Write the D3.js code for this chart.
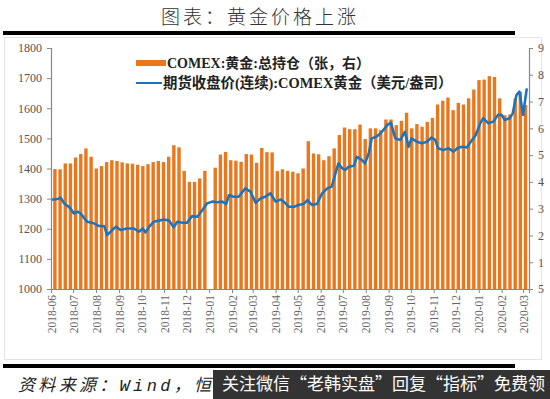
<!DOCTYPE html>
<html><head><meta charset="utf-8">
<script src="https://cdn.jsdelivr.net/npm/d3@7"></script>
<style>body{margin:0;background:#fff;} svg{display:block}</style>
</head><body><svg id="c" width="550" height="399"></svg>
<script>
// ---------- data ----------
const titleText = "图表：黄金价格上涨";
const sourceText = "资料来源：Wind，恒";
const overlayText = "关注微信“老韩实盘”回复“指标”免费领";
const barName = "COMEX:黄金:总持仓（张，右）";
const lineName = "期货收盘价(连续):COMEX黄金（美元/盎司）";

const monthLabels = ["2018-06","2018-07","2018-08","2018-09","2018-10","2018-11","2018-12",
  "2019-01","2019-02","2019-03","2019-04","2019-05","2019-06","2019-07","2019-08","2019-09",
  "2019-10","2019-11","2019-12","2020-01","2020-02","2020-03"];
const leftTicks = [1000,1100,1200,1300,1400,1500,1600,1700,1800];
const rightTicks = [0,1,2,3,4,5,6,7,8,9];
const rightTickLabels = ["5","1","2","3","4","5","6","7","8","9"];

// weekly open interest (10^5 contracts), weeks starting Monday 2018-06-04
const firstWeek = "2018-06-04";
const openInterest = [4.48,4.47,4.69,4.69,4.91,5.04,5.25,4.94,4.50,4.59,
  4.74,4.81,4.78,4.73,4.69,4.68,4.64,4.59,4.66,4.74,
  4.78,4.74,4.94,5.37,5.29,4.41,4.00,4.00,4.13,4.41,
  null,4.53,5.02,5.12,4.81,4.79,4.75,5.04,5.02,4.71,
  5.27,5.11,5.10,4.40,4.47,4.41,4.38,4.32,4.50,5.52,
  5.06,5.03,4.81,4.96,5.25,5.75,6.03,5.97,5.97,6.14,
  5.60,6.00,6.00,5.93,6.33,6.33,6.12,6.28,6.58,6.00,
  6.16,6.06,6.24,6.39,6.89,7.03,7.15,6.68,6.95,6.89,
  7.12,7.45,7.80,7.82,7.95,7.92,7.12,6.49,6.52,7.12,
  7.36,6.87];

const priceDates = ["2018-06-01","2018-06-10","2018-06-14","2018-06-19","2018-06-26","2018-07-02","2018-07-07","2018-07-11",
  "2018-07-20","2018-07-29","2018-08-05","2018-08-12","2018-08-16","2018-08-23","2018-08-28","2018-09-03",
  "2018-09-12","2018-09-21","2018-09-28","2018-10-03","2018-10-07","2018-10-12","2018-10-18","2018-10-25",
  "2018-11-01","2018-11-08","2018-11-14","2018-11-19","2018-11-26","2018-12-02","2018-12-09","2018-12-16",
  "2018-12-23","2018-12-29","2019-01-05","2019-01-12","2019-01-19","2019-01-24","2019-01-28","2019-02-03",
  "2019-02-10","2019-02-19","2019-02-26","2019-03-05","2019-03-12","2019-03-18","2019-03-25","2019-04-01",
  "2019-04-08","2019-04-12","2019-04-19","2019-04-26","2019-05-02","2019-05-09","2019-05-14","2019-05-20",
  "2019-05-27","2019-06-03","2019-06-10","2019-06-16","2019-06-21","2019-06-25","2019-06-30","2019-07-04",
  "2019-07-09","2019-07-16","2019-07-20","2019-07-27","2019-07-31","2019-08-05","2019-08-09","2019-08-16",
  "2019-08-21","2019-08-25","2019-08-30","2019-09-04","2019-09-10","2019-09-17","2019-09-23","2019-09-28",
  "2019-10-02","2019-10-09","2019-10-16","2019-10-23","2019-10-29","2019-11-03","2019-11-07","2019-11-14",
  "2019-11-21","2019-11-28","2019-12-03","2019-12-09","2019-12-16","2019-12-23","2019-12-28","2020-01-03",
  "2020-01-07","2020-01-14","2020-01-21","2020-01-27","2020-02-01","2020-02-05","2020-02-12","2020-02-16",
  "2020-02-21","2020-02-25","2020-03-01","2020-03-06"];
const priceValues = [1296,1299,1303,1284,1271,1251,1257,1251,
  1223,1218,1209,1209,1179,1196,1207,1196,
  1201,1201,1190,1201,1188,1207,1223,1227,
  1231,1227,1205,1223,1220,1220,1242,1240,
  1262,1284,1290,1288,1290,1282,1312,1306,
  1306,1334,1323,1286,1301,1306,1318,1290,
  1297,1290,1273,1273,1279,1282,1295,1279,
  1282,1318,1334,1340,1384,1417,1401,1395,
  1406,1409,1439,1428,1417,1450,1500,1506,
  1517,1528,1544,1552,1500,1495,1522,1472,
  1500,1489,1484,1489,1503,1495,1467,1461,
  1467,1456,1467,1472,1470,1495,1511,1550,
  1567,1550,1556,1578,1578,1561,1567,1583,
  1644,1655,1578,1666];

// ---------- drawing ----------
const svg = d3.select("#c");
const parse = d3.timeParse("%Y-%m-%d");
const parseM = d3.timeParse("%Y-%m");
const W = {l:51, r:529, t:48, b:289};

const x = d3.scaleTime().domain([parse("2018-06-01"), parse("2020-03-09")]).range([W.l, W.r]);
const yL = d3.scaleLinear().domain([1000,1800]).range([W.b, W.t]);
const yR = d3.scaleLinear().domain([0,9]).range([W.b, W.t]);

const serif = "'Liberation Serif','Times New Roman',serif";
const cjk = "'Noto Sans CJK SC','Noto Sans',sans-serif";

// frame
svg.append("rect").attr("x",4.5).attr("y",37.5).attr("width",537).attr("height",322)
  .attr("fill","none").attr("stroke","#e4e4e4");

// title
svg.append("text").attr("x",260).attr("y",24).attr("text-anchor","middle")
  .attr("font-family",cjk).attr("font-weight",300).attr("font-size",19)
  .attr("letter-spacing",3).attr("fill","#333").text(titleText);
svg.append("rect").attr("x",3).attr("y",31).attr("width",512).attr("height",4).attr("fill","#000");

// bars
const weeks = d3.timeMonday.range(parse(firstWeek), d3.timeDay.offset(parse(firstWeek), 7*openInterest.length));
const barData = weeks.map((d,i)=>({d, v: openInterest[i]})).filter(o=>o.v!=null);
svg.append("g").selectAll("rect").data(barData).join("rect")
  .attr("x", o=>x(o.d))
  .attr("width", o=>x(d3.timeDay.offset(o.d,5)) - x(o.d) - 0.3)
  .attr("y", o=>yR(o.v))
  .attr("height", o=>yR(0)-yR(o.v))
  .attr("fill","#EB771D");

// line
const lineData = priceDates.map((d,i)=>({d: parse(d), v: priceValues[i]}));
svg.append("path").datum(lineData)
  .attr("fill","none").attr("stroke","#1C74BC").attr("stroke-width",2.6)
  .attr("stroke-linejoin","round")
  .attr("d", d3.line().x(o=>x(o.d)).y(o=>yL(o.v)));

// axes
const axisColor = "#888";
const gL = svg.append("g").attr("transform",`translate(${W.l},0)`)
  .call(d3.axisLeft(yL).tickValues(leftTicks).tickSize(4).tickPadding(5).tickFormat(d3.format("d")));
const gR = svg.append("g").attr("transform",`translate(${W.r},0)`)
  .call(d3.axisRight(yR).tickValues(rightTicks).tickSize(4).tickPadding(5).tickFormat((d,i)=>rightTickLabels[i]));
const gX = svg.append("g").attr("transform",`translate(0,${W.b})`)
  .call(d3.axisBottom(x).tickValues(monthLabels.map(m=>parseM(m))).tickSize(4).tickPadding(4)
    .tickFormat(d3.timeFormat("%Y-%m")));
[gL,gR,gX].forEach(g=>{
  g.select(".domain").attr("stroke",axisColor).attr("stroke-width",1.2);
  g.selectAll(".tick line").attr("stroke",axisColor);
  g.selectAll("text").attr("font-family",serif).attr("font-size",12).attr("fill","#555");
});
gX.selectAll("text").attr("font-size",11.5).attr("fill","#666")
  .attr("transform","rotate(-90)").attr("text-anchor","end")
  .attr("x",-6).attr("y",0).attr("dy","0.35em");

// legend
const lg = svg.append("g");
lg.append("rect").attr("x",136).attr("y",60).attr("width",30).attr("height",6).attr("fill","#EB771D");
lg.append("text").attr("x",167).attr("y",63).attr("dy","0.35em")
  .attr("font-family",serif+","+cjk).attr("font-weight","bold").attr("font-size",14).attr("fill","#222").text(barName);
lg.append("line").attr("x1",136).attr("x2",162).attr("y1",83).attr("y2",83)
  .attr("stroke","#1C74BC").attr("stroke-width",2);
lg.append("text").attr("x",163).attr("y",83).attr("dy","0.35em")
  .attr("font-family",serif+","+cjk).attr("font-weight","bold").attr("font-size",14.4).attr("fill","#222").text(lineName);

// footer
svg.append("rect").attr("x",3).attr("y",364).attr("width",512).attr("height",4).attr("fill","#000");
svg.append("text").attr("x",18).attr("y",391)
  .attr("font-family","'Liberation Mono',"+cjk).attr("font-style","italic").attr("font-size",17)
  .attr("textLength",193).attr("lengthAdjust","spacing")
  .attr("fill","#222").text(sourceText);
svg.append("rect").attr("x",213).attr("y",370).attr("width",337).attr("height",29).attr("fill","#333");
svg.append("text").attr("x",222).attr("y",390)
  .attr("font-family",cjk).attr("font-size",17).attr("fill","#fff").text(overlayText);
</script></body></html>
